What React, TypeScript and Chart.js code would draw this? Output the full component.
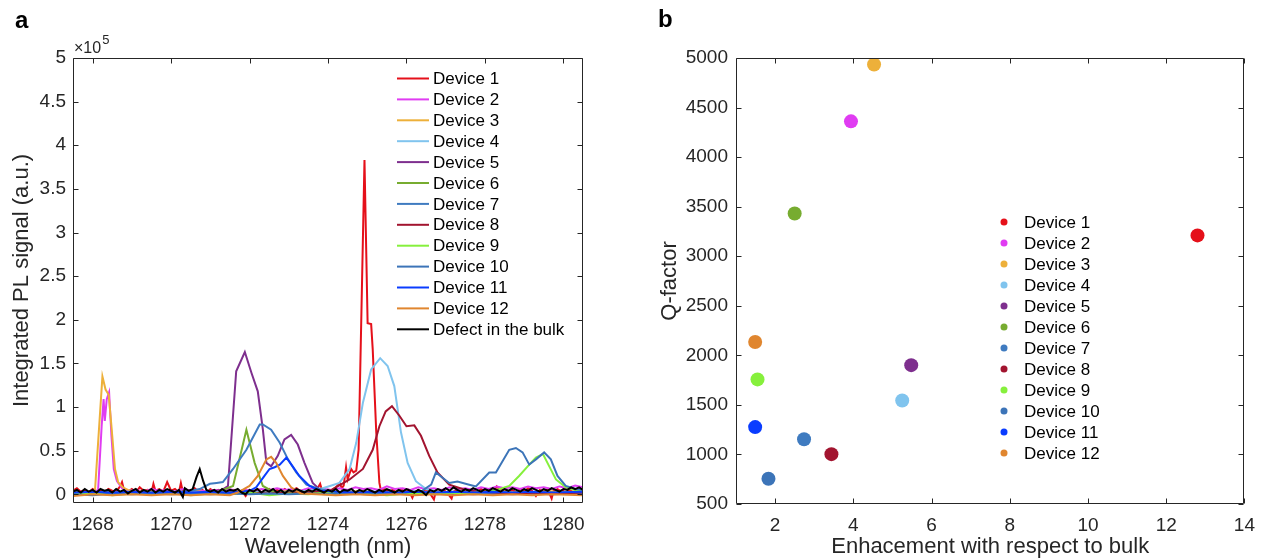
import React, { useEffect, useRef } from 'react';
import { Chart, registerables } from 'chart.js';

Chart.register(...registerables);

const FONT = '"Liberation Sans", Arial, Helvetica, sans-serif';
const INK = '#262626';

// ---------- Panel a: PL spectra (values in units of 1e5) ----------
const WL_TICKS = [1268, 1270, 1272, 1274, 1276, 1278, 1280];
const PL_TICKS = [0, 0.5, 1, 1.5, 2, 2.5, 3, 3.5, 4, 4.5, 5];

const SERIES_LABELS = [
  'Device 1', 'Device 2', 'Device 3', 'Device 4', 'Device 5', 'Device 6',
  'Device 7', 'Device 8', 'Device 9', 'Device 10', 'Device 11', 'Device 12',
  'Defect in the bulk',
];
const SERIES_COLORS = [
  '#E5101A', '#E03CF2', '#EDB03A', '#80C4EE', '#7E2F8E', '#77AC30',
  '#3F7BC0', '#A2142F', '#86F03C', '#3C74B8', '#0A3CFF', '#E0862F',
  '#000000',
];

const D1 = [
  [1267.5,0.04],[1267.6,0.07],[1267.7,0.03],[1267.8,0.05],[1267.9,0.02],[1268.0,0.06],[1268.1,0.03],[1268.2,0.05],
  [1268.3,0.02],[1268.4,0.06],[1268.5,0.04],[1268.6,0.03],[1268.7,0.09],[1268.75,0.14],[1268.8,0.05],[1268.9,0.03],
  [1269.0,0.06],[1269.1,0.02],[1269.2,0.08],[1269.3,0.04],[1269.4,0.05],[1269.5,0.02],[1269.55,0.12],[1269.6,0.04],
  [1269.7,0.06],[1269.8,0.03],[1269.9,0.14],[1270.0,0.04],[1270.1,0.06],[1270.2,0.02],[1270.25,0.13],[1270.3,0.03],
  [1270.4,0.05],[1270.5,0.02],[1270.6,0.07],[1270.7,0.03],[1270.8,0.05],[1270.9,0.01],[1271.0,0.06],[1271.1,0.03],
  [1271.2,0.05],[1271.3,0.02],[1271.4,0.06],[1271.5,0.03],[1271.6,0.05],[1271.7,0.01],[1271.8,0.04],[1271.9,-0.02],
  [1272.0,0.05],[1272.1,0.03],[1272.2,0.06],[1272.3,0.02],[1272.4,0.04],[1272.5,0.06],[1272.6,0.02],[1272.7,0.05],
  [1272.8,0.03],[1272.9,0.06],[1273.0,0.02],[1273.1,0.05],[1273.2,0.07],[1273.3,0.03],[1273.4,0.05],[1273.5,0.02],
  [1273.6,0.06],[1273.7,0.04],[1273.8,0.12],[1273.85,0.04],[1273.9,0.06],[1274.0,0.03],[1274.1,0.05],[1274.2,0.08],
  [1274.3,0.13],[1274.35,0.07],[1274.4,0.1],[1274.46,0.31],[1274.5,0.17],[1274.59,0.29],[1274.65,0.25],[1274.72,0.27],
  [1274.78,0.51],[1274.85,2.04],[1274.93,3.83],[1275.01,1.96],[1275.1,1.95],[1275.14,1.66],[1275.23,0.71],[1275.31,0.13],
  [1275.35,0.04],[1275.45,0.06],[1275.55,0.03],[1275.65,0.05],[1275.75,0.02],[1275.85,0.06],[1275.95,0.03],[1276.05,0.05],
  [1276.15,-0.04],[1276.2,0.02],[1276.3,0.05],[1276.4,0.02],[1276.5,0.06],[1276.6,0.01],[1276.7,-0.06],[1276.75,0.04],
  [1276.85,0.02],[1276.95,0.05],[1277.05,0.01],[1277.15,-0.05],[1277.2,0.03],[1277.3,0.05],[1277.4,0.02],[1277.5,0.06],
  [1277.6,0.03],[1277.7,0.05],[1277.8,0.02],[1277.9,0.06],[1278.0,0.03],[1278.1,0.05],[1278.2,0.02],[1278.3,0.09],
  [1278.4,0.04],[1278.5,0.06],[1278.6,0.03],[1278.7,0.05],[1278.8,0.02],[1278.9,0.06],[1279.0,0.03],[1279.1,0.07],
  [1279.2,0.04],[1279.3,-0.02],[1279.4,0.05],[1279.5,0.03],[1279.6,0.06],[1279.7,-0.05],[1279.75,0.04],[1279.85,0.06],
  [1279.95,0.03],[1280.05,0.07],[1280.15,0.04],[1280.25,0.06],[1280.35,0.03],[1280.45,0.05],
];
const D2 = [
  [1267.5,0.02],[1267.7,0.03],[1267.9,0.01],[1268.05,0.03],[1268.14,0.05],[1268.23,0.78],[1268.28,1.09],[1268.31,0.84],
  [1268.36,1.09],[1268.42,1.17],[1268.48,0.67],[1268.54,0.29],[1268.62,0.15],[1268.75,0.07],[1268.9,0.04],[1269.1,0.05],
  [1269.3,0.03],[1269.5,0.06],[1269.7,0.04],[1269.9,0.05],[1270.1,0.03],[1270.3,0.06],[1270.5,0.04],[1270.7,0.05],
  [1270.9,0.03],[1271.1,0.05],[1271.3,0.04],[1271.5,0.06],[1271.7,0.03],[1271.9,0.05],[1272.1,0.04],[1272.3,0.06],
  [1272.5,0.05],[1272.7,0.07],[1272.9,0.05],[1273.1,0.06],[1273.3,0.04],[1273.5,0.07],[1273.7,0.05],[1273.9,0.06],
  [1274.1,0.05],[1274.3,0.07],[1274.5,0.05],[1274.7,0.08],[1274.9,0.06],[1275.1,0.07],[1275.3,0.05],[1275.5,0.09],
  [1275.7,0.06],[1275.9,0.07],[1276.1,0.05],[1276.3,0.08],[1276.5,0.06],[1276.7,0.07],[1276.9,0.05],[1277.1,0.08],
  [1277.3,0.06],[1277.5,0.07],[1277.7,0.05],[1277.9,0.08],[1278.1,0.06],[1278.3,0.09],[1278.5,0.07],[1278.7,0.08],
  [1278.9,0.06],[1279.1,0.09],[1279.3,0.07],[1279.5,0.08],[1279.7,0.06],[1279.9,0.09],[1280.1,0.07],[1280.3,0.1],
  [1280.5,0.08],
];
const D3 = [
  [1267.5,0.03],[1267.7,0.02],[1267.9,0.03],[1268.06,0.04],[1268.25,1.35],[1268.33,1.2],[1268.41,1.14],[1268.48,0.78],
  [1268.57,0.29],[1268.65,0.14],[1268.77,0.08],[1268.9,0.05],[1269.1,0.03],[1269.4,0.04],[1269.7,0.02],[1270.0,0.03],
  [1270.3,0.02],[1270.6,0.04],[1270.9,0.02],[1271.2,0.03],[1271.5,0.02],[1271.8,0.04],[1272.1,0.02],[1272.4,0.03],
  [1272.7,0.02],[1273.0,0.04],[1273.3,0.02],[1273.6,0.03],[1273.9,0.02],[1274.2,0.03],[1274.5,0.02],[1274.8,0.04],
  [1275.1,0.02],[1275.4,0.03],[1275.7,0.02],[1276.0,0.03],[1276.3,0.01],[1276.6,0.03],[1276.9,0.02],[1277.2,0.03],
  [1277.5,0.02],[1277.8,0.03],[1278.1,0.02],[1278.4,0.04],[1278.7,0.02],[1279.0,0.03],[1279.3,0.02],[1279.6,0.04],
  [1279.9,0.02],[1280.2,0.03],[1280.5,0.02],
];
const D4 = [
  [1267.5,0.02],[1268.0,0.03],[1268.5,0.02],[1269.0,0.03],[1269.5,0.02],[1270.0,0.03],[1270.5,0.02],[1271.0,0.03],
  [1271.5,0.02],[1272.0,0.03],[1272.5,0.02],[1273.0,0.03],[1273.5,0.04],[1273.8,0.06],[1274.05,0.095],[1274.29,0.13],
  [1274.55,0.29],[1274.72,0.59],[1274.89,1.05],[1275.1,1.43],[1275.33,1.56],[1275.52,1.47],[1275.69,1.24],[1275.86,0.71],
  [1276.03,0.36],[1276.24,0.15],[1276.5,0.06],[1276.8,0.03],[1277.2,0.02],[1277.6,0.03],[1278.0,0.02],[1278.4,0.03],
  [1278.8,0.01],[1279.2,0.02],[1279.6,0.01],[1280.0,0.02],[1280.5,0.01],
];
const D5 = [
  [1267.5,0.01],[1268.0,0.02],[1268.5,0.01],[1269.0,0.02],[1269.5,0.01],[1270.0,0.02],[1270.5,0.01],[1271.0,0.03],
  [1271.3,0.05],[1271.45,0.095],[1271.66,1.41],[1271.88,1.63],[1272.05,1.39],[1272.21,1.18],[1272.34,0.74],[1272.43,0.36],
  [1272.55,0.32],[1272.72,0.44],[1272.89,0.63],[1273.06,0.68],[1273.23,0.57],[1273.4,0.36],[1273.61,0.13],[1273.8,0.05],
  [1274.2,0.02],[1274.7,0.01],[1275.2,0.02],[1275.7,0.01],[1276.2,0.02],[1276.7,0.0],[1277.2,0.01],[1277.7,0.0],
  [1278.2,0.01],[1278.7,0.0],[1279.2,0.01],[1279.7,0.0],[1280.5,0.01],
];
const D6 = [
  [1267.5,0.02],[1268.5,0.01],[1269.5,0.02],[1270.5,0.01],[1271.2,0.03],[1271.58,0.095],[1271.92,0.74],[1272.13,0.36],
  [1272.34,0.095],[1272.6,0.03],[1273.0,0.02],[1273.5,0.01],[1274.0,0.02],[1274.5,0.01],[1275.0,0.02],[1275.5,0.01],
  [1276.0,0.02],[1276.5,0.01],[1277.0,0.02],[1277.5,0.01],[1278.0,0.02],[1278.5,0.01],[1279.0,0.02],[1279.5,0.01],
  [1280.0,0.02],[1280.5,0.01],
];
const D7 = [
  [1267.5,0.01],[1268.0,0.02],[1268.5,0.01],[1269.0,0.02],[1269.5,0.01],[1270.0,0.02],[1270.5,0.04],[1270.73,0.06],
  [1270.99,0.12],[1271.16,0.13],[1271.32,0.14],[1271.58,0.29],[1271.92,0.51],[1272.26,0.8],[1272.34,0.8],[1272.55,0.74],
  [1272.77,0.59],[1272.98,0.4],[1273.19,0.25],[1273.45,0.11],[1273.78,0.06],[1274.1,0.03],[1274.6,0.02],[1275.1,0.01],
  [1275.6,0.02],[1276.1,0.01],[1276.6,0.02],[1277.1,0.01],[1277.6,0.02],[1278.1,0.01],[1278.6,0.02],[1279.1,0.01],
  [1279.6,0.02],[1280.5,0.01],
];
const D8 = [
  [1267.5,0.01],[1268.0,0.02],[1268.5,0.01],[1269.0,0.02],[1269.5,0.01],[1270.0,0.02],[1270.5,0.01],[1271.0,0.02],
  [1271.5,0.01],[1272.0,0.02],[1272.5,0.01],[1273.0,0.02],[1273.5,0.03],[1274.05,0.04],[1274.55,0.17],[1274.89,0.29],
  [1275.14,0.51],[1275.31,0.78],[1275.47,0.95],[1275.63,1.01],[1275.82,0.9],[1276.0,0.78],[1276.2,0.79],[1276.37,0.67],
  [1276.58,0.44],[1276.79,0.25],[1277.09,0.11],[1277.43,0.06],[1277.8,0.03],[1278.3,0.02],[1278.8,0.01],[1279.3,0.02],
  [1279.8,0.01],[1280.5,0.02],
];
const D9 = [
  [1267.5,0.0],[1268.0,0.02],[1268.5,-0.01],[1269.0,0.01],[1269.5,0.0],[1270.0,0.02],[1270.5,-0.01],[1271.0,0.01],
  [1271.5,0.0],[1272.0,0.02],[1272.5,-0.01],[1273.0,0.01],[1273.5,0.0],[1274.0,0.02],[1274.5,0.0],[1275.0,0.01],
  [1275.5,-0.01],[1276.0,0.01],[1276.5,0.0],[1277.0,0.02],[1277.5,0.01],[1278.0,0.03],[1278.3,0.05],[1278.62,0.095],
  [1278.87,0.21],[1279.13,0.34],[1279.3,0.42],[1279.48,0.46],[1279.64,0.32],[1279.81,0.17],[1280.06,0.08],[1280.3,0.05],
  [1280.5,0.04],
];
const D10 = [
  [1267.5,0.0],[1268.0,-0.01],[1268.5,0.01],[1269.0,0.0],[1269.5,0.01],[1270.0,0.0],[1270.5,0.01],[1271.0,0.0],
  [1271.5,0.01],[1272.0,0.0],[1272.5,0.01],[1273.0,0.0],[1273.5,0.01],[1274.0,0.0],[1274.5,0.01],[1275.0,0.0],
  [1275.5,0.01],[1276.0,0.02],[1276.4,0.04],[1276.63,0.11],[1276.75,0.25],[1276.92,0.19],[1277.09,0.13],[1277.3,0.145],
  [1277.6,0.11],[1277.77,0.09],[1278.11,0.25],[1278.28,0.25],[1278.62,0.51],[1278.79,0.53],[1278.96,0.48],[1279.13,0.34],
  [1279.3,0.4],[1279.51,0.48],[1279.68,0.4],[1279.85,0.21],[1280.06,0.095],[1280.32,0.06],[1280.5,0.05],
];
const D11 = [
  [1267.5,0.02],[1268.0,0.03],[1268.5,0.02],[1269.0,0.03],[1269.5,0.02],[1270.0,0.03],[1270.5,0.02],[1271.0,0.03],
  [1271.5,0.02],[1272.0,0.04],[1272.17,0.08],[1272.38,0.21],[1272.51,0.29],[1272.64,0.31],[1272.77,0.34],[1272.94,0.42],
  [1273.1,0.32],[1273.27,0.21],[1273.53,0.095],[1273.8,0.04],[1274.2,0.03],[1274.7,0.02],[1275.2,0.03],[1275.7,0.02],
  [1276.2,0.03],[1276.7,0.02],[1277.2,0.03],[1277.7,0.02],[1278.2,0.03],[1278.7,0.02],[1279.2,0.03],[1279.7,0.02],
  [1280.5,0.03],
];
const D12 = [
  [1267.5,-0.02],[1268.0,0.0],[1268.5,-0.01],[1269.0,0.0],[1269.5,-0.01],[1270.0,0.0],[1270.5,-0.01],[1271.0,0.0],
  [1271.5,-0.01],[1271.7,0.02],[1272.0,0.095],[1272.21,0.21],[1272.43,0.4],[1272.55,0.43],[1272.68,0.36],[1272.85,0.21],
  [1273.06,0.08],[1273.3,0.01],[1273.7,0.0],[1274.2,-0.01],[1274.7,0.0],[1275.2,-0.01],[1275.7,0.0],[1276.2,-0.01],
  [1276.7,0.0],[1277.2,-0.01],[1277.7,0.0],[1278.2,-0.01],[1278.7,0.0],[1279.2,-0.01],[1279.7,0.0],[1280.5,-0.01],
];
const BULK = [
  [1267.5,0.03],[1267.6,0.05],[1267.7,0.02],[1267.8,0.06],[1267.9,0.03],[1268.0,0.05],[1268.1,0.02],[1268.2,0.06],
  [1268.3,0.04],[1268.4,0.05],[1268.5,0.02],[1268.6,0.06],[1268.7,0.03],[1268.8,0.05],[1268.9,0.01],[1269.0,0.04],
  [1269.1,0.06],[1269.2,0.02],[1269.3,0.05],[1269.4,0.03],[1269.5,0.06],[1269.6,0.02],[1269.7,0.05],[1269.8,0.03],
  [1269.9,0.06],[1270.0,0.04],[1270.1,0.02],[1270.2,0.05],[1270.3,-0.03],[1270.35,0.07],[1270.45,0.04],[1270.55,0.06],
  [1270.65,0.2],[1270.73,0.29],[1270.82,0.15],[1270.9,0.05],[1271.0,0.03],[1271.1,0.05],[1271.2,0.02],[1271.3,0.06],
  [1271.4,0.03],[1271.5,0.05],[1271.6,0.04],[1271.7,0.06],[1271.8,0.02],[1271.9,0.0],[1272.0,0.05],[1272.1,0.03],
  [1272.2,0.06],[1272.3,0.02],[1272.4,0.05],[1272.5,0.03],[1272.6,0.06],[1272.7,0.02],[1272.8,0.05],[1272.9,0.01],
  [1273.0,0.05],[1273.1,0.03],[1273.2,0.06],[1273.3,0.04],[1273.4,0.02],[1273.5,0.05],[1273.6,0.03],[1273.7,0.06],
  [1273.8,0.04],[1273.9,0.02],[1274.0,0.05],[1274.1,0.03],[1274.2,0.06],[1274.3,0.02],[1274.4,0.05],[1274.5,0.04],
  [1274.6,0.06],[1274.7,0.02],[1274.8,0.05],[1274.9,0.03],[1275.0,0.06],[1275.1,0.04],[1275.2,0.02],[1275.3,0.05],
  [1275.4,0.03],[1275.5,0.06],[1275.6,0.04],[1275.7,0.02],[1275.8,0.05],[1275.9,0.03],[1276.0,0.06],[1276.1,0.04],
  [1276.2,0.02],[1276.3,0.05],[1276.4,0.03],[1276.5,-0.01],[1276.6,0.05],[1276.7,0.03],[1276.8,0.06],[1276.9,0.04],
  [1277.0,0.07],[1277.1,0.04],[1277.2,0.08],[1277.3,0.05],[1277.4,0.03],[1277.5,0.06],[1277.6,0.04],[1277.7,0.07],
  [1277.8,0.05],[1277.9,0.03],[1278.0,0.06],[1278.1,0.04],[1278.2,0.07],[1278.3,0.05],[1278.4,0.03],[1278.5,0.06],
  [1278.6,0.04],[1278.7,0.07],[1278.8,0.05],[1278.9,0.03],[1279.0,0.06],[1279.1,0.04],[1279.2,0.07],[1279.3,0.05],
  [1279.4,0.03],[1279.5,0.06],[1279.6,0.04],[1279.7,0.07],[1279.8,0.05],[1279.9,0.03],[1280.0,0.06],[1280.1,0.05],
  [1280.2,0.08],[1280.3,0.06],[1280.4,0.08],[1280.5,0.05],
];
const SPECTRA = [D1, D2, D3, D4, D5, D6, D7, D8, D9, D10, D11, D12, BULK];

// ---------- Panel b: Q-factor vs enhancement ----------
const Q_LABELS = [
  'Device 1', 'Device 2', 'Device 3', 'Device 4', 'Device 5', 'Device 6',
  'Device 7', 'Device 8', 'Device 9', 'Device 10', 'Device 11', 'Device 12',
];
const ENHANCEMENT = [12.8, 3.94, 4.53, 5.25, 5.48, 2.5, 2.74, 3.44, 1.55, 1.83, 1.49, 1.49];
const Q_FACTOR = [3210, 4361, 4935, 1545, 1901, 3431, 1154, 1003, 1757, 755, 1276, 2134];
const ENH_TICKS = [2, 4, 6, 8, 10, 12, 14];
const Q_TICKS = [500, 1000, 1500, 2000, 2500, 3000, 3500, 4000, 4500, 5000];

// ---------- plugins ----------
const boxPlugin = {
  id: 'matlabBox',
  afterDraw(chart: any) {
    const { ctx, chartArea: a, scales } = chart;
    const tl = 5;
    const L = Math.round(a.left) + 0.5;
    const R = Math.round(a.right) - 0.5;
    const T = Math.round(a.top) + 0.5;
    const B = Math.round(a.bottom) - 0.5;
    ctx.save();
    ctx.strokeStyle = INK;
    ctx.lineWidth = 1;
    ctx.beginPath();
    ctx.rect(L, T, R - L, B - T);
    scales.x.ticks.forEach((t: any) => {
      const px = Math.round(scales.x.getPixelForValue(t.value)) + 0.5;
      ctx.moveTo(px, B); ctx.lineTo(px, B - tl);
      ctx.moveTo(px, T); ctx.lineTo(px, T + tl);
    });
    scales.y.ticks.forEach((t: any) => {
      const py = Math.round(scales.y.getPixelForValue(t.value)) + 0.5;
      ctx.moveTo(L, py); ctx.lineTo(L + tl, py);
      ctx.moveTo(R, py); ctx.lineTo(R - tl, py);
    });
    ctx.stroke();
    ctx.restore();
  },
};

const legendPlugin = {
  id: 'insideLegend',
  afterDraw(chart: any, _args: any, opts: any) {
    if (!opts || !opts.show) return;
    const { ctx } = chart;
    ctx.save();
    ctx.font = `${opts.size}px ${FONT}`;
    ctx.textBaseline = 'middle';
    ctx.textAlign = 'left';
    chart.data.datasets.forEach((ds: any, i: number) => {
      const y = opts.y + i * opts.rowH;
      const color = ds.borderColor || ds.backgroundColor;
      if (opts.kind === 'line') {
        ctx.strokeStyle = color;
        ctx.lineWidth = 2;
        ctx.beginPath();
        ctx.moveTo(opts.x, y);
        ctx.lineTo(opts.x + opts.len, y);
        ctx.stroke();
      } else {
        ctx.fillStyle = ds.backgroundColor;
        ctx.beginPath();
        ctx.arc(opts.x, y, opts.r, 0, Math.PI * 2);
        ctx.fill();
      }
      ctx.fillStyle = '#000';
      ctx.fillText(ds.label, opts.textX, y + 1);
    });
    ctx.restore();
  },
};

const labelsPlugin = {
  id: 'panelText',
  afterDraw(chart: any, _args: any, opts: any) {
    if (!opts) return;
    const { ctx, chartArea: a } = chart;
    ctx.save();
    ctx.fillStyle = '#000';
    ctx.textBaseline = 'alphabetic';
    ctx.textAlign = 'left';
    ctx.font = `bold 24px ${FONT}`;
    ctx.fillText(opts.letter, opts.lx, opts.ly);
    if (opts.exponent) {
      ctx.fillStyle = INK;
      ctx.font = `16px ${FONT}`;
      const base = '\u00D710';
      ctx.fillText(base, a.left + 1, a.top - 5);
      const w = ctx.measureText(base).width;
      ctx.font = `13px ${FONT}`;
      ctx.fillText(opts.exponent, a.left + 1 + w + 1, a.top - 14);
    }
    ctx.restore();
  },
};

const tickFont = { family: FONT, size: 19 };
const titleFont = { family: FONT, size: 22 };
const noGrid = { display: false, drawTicks: false, tickLength: 0 };

function PanelA() {
  const ref = useRef<HTMLCanvasElement>(null);
  useEffect(() => {
    const n = SPECTRA.length;
    const chart = new Chart(ref.current as HTMLCanvasElement, {
      type: 'line',
      data: {
        datasets: SPECTRA.map((s, i) => ({
          label: SERIES_LABELS[i],
          data: s.map(([x, y]) => ({ x, y })),
          borderColor: SERIES_COLORS[i],
          backgroundColor: SERIES_COLORS[i],
          borderWidth: 2,
          pointRadius: 0,
          tension: 0,
          order: n - i,
        })),
      },
      options: {
        responsive: false,
        animation: false,
        devicePixelRatio: 1,
        layout: { padding: { top: 58, right: 47, left: 0, bottom: 0 } },
        plugins: {
          legend: { display: false },
          tooltip: { enabled: false },
          insideLegend: { show: true, kind: 'line', x: 397, len: 32, textX: 433, y: 78.5, rowH: 20.9, size: 17 },
          panelText: { letter: 'a', lx: 15, ly: 28, exponent: '5' },
        } as any,
        scales: {
          x: {
            type: 'linear',
            min: 1267.5,
            max: 1280.5,
            afterBuildTicks: (s: any) => { s.ticks = WL_TICKS.map((v) => ({ value: v })); },
            afterFit: (s: any) => { s.height = 57; },
            grid: noGrid,
            border: { display: false },
            ticks: { font: tickFont, color: INK, padding: 10, maxRotation: 0, autoSkip: false, callback: (v: any) => String(v) },
            title: { display: true, text: 'Wavelength (nm)', font: titleFont, color: INK, padding: { top: 0, bottom: 0 } },
          },
          y: {
            type: 'linear',
            min: -0.1,
            max: 5,
            afterBuildTicks: (s: any) => { s.ticks = PL_TICKS.map((v) => ({ value: v })); },
            afterFit: (s: any) => { s.width = 73; },
            grid: noGrid,
            border: { display: false },
            ticks: { font: tickFont, color: INK, padding: 7, autoSkip: false, callback: (v: any) => String(v) },
            title: { display: true, text: 'Integrated PL signal (a.u.)', font: titleFont, color: INK, padding: { top: 9, bottom: 0 } },
          },
        },
      },
      plugins: [boxPlugin, legendPlugin, labelsPlugin],
    } as any);
    return () => chart.destroy();
  }, []);
  return (
    <canvas
      ref={ref}
      width={630}
      height={560}
      style={{ position: 'absolute', left: 0, top: 0, width: 630, height: 560 }}
    />
  );
}

function PanelB() {
  const ref = useRef<HTMLCanvasElement>(null);
  useEffect(() => {
    const chart = new Chart(ref.current as HTMLCanvasElement, {
      type: 'scatter',
      data: {
        datasets: Q_LABELS.map((label, i) => ({
          label,
          data: [{ x: ENHANCEMENT[i], y: Q_FACTOR[i] }],
          backgroundColor: SERIES_COLORS[i],
          borderColor: SERIES_COLORS[i],
          borderWidth: 0,
          pointRadius: 7,
        })),
      },
      options: {
        responsive: false,
        animation: false,
        devicePixelRatio: 1,
        layout: { padding: { top: 58, right: 19, left: 0, bottom: 0 } },
        plugins: {
          legend: { display: false },
          tooltip: { enabled: false },
          insideLegend: { show: true, kind: 'dot', x: 364, r: 3.5, textX: 384, y: 222, rowH: 21, size: 17 },
          panelText: { letter: 'b', lx: 18, ly: 27 },
        } as any,
        scales: {
          x: {
            type: 'linear',
            min: 1,
            max: 14,
            afterBuildTicks: (s: any) => { s.ticks = ENH_TICKS.map((v) => ({ value: v })); },
            afterFit: (s: any) => { s.height = 56; },
            grid: noGrid,
            border: { display: false },
            ticks: { font: tickFont, color: INK, padding: 10, maxRotation: 0, autoSkip: false, callback: (v: any) => String(v) },
            title: { display: true, text: 'Enhacement with respect to bulk', font: titleFont, color: INK, padding: { top: 0, bottom: 0 } },
          },
          y: {
            type: 'linear',
            min: 500,
            max: 5000,
            afterBuildTicks: (s: any) => { s.ticks = Q_TICKS.map((v) => ({ value: v })); },
            afterFit: (s: any) => { s.width = 96; },
            grid: noGrid,
            border: { display: false },
            ticks: { font: tickFont, color: INK, padding: 8, autoSkip: false, callback: (v: any) => String(v) },
            title: { display: true, text: 'Q-factor', font: titleFont, color: INK, padding: { top: 17, bottom: 0 } },
          },
        },
      },
      plugins: [boxPlugin, legendPlugin, labelsPlugin],
    } as any);
    return () => chart.destroy();
  }, []);
  return (
    <canvas
      ref={ref}
      width={625}
      height={560}
      style={{ position: 'absolute', left: 640, top: 0, width: 625, height: 560 }}
    />
  );
}

export default function App() {
  return (
    <div style={{ position: 'fixed', left: 0, top: 0, width: 1265, height: 560, background: '#fff', overflow: 'hidden' }}>
      <PanelA />
      <PanelB />
    </div>
  );
}
